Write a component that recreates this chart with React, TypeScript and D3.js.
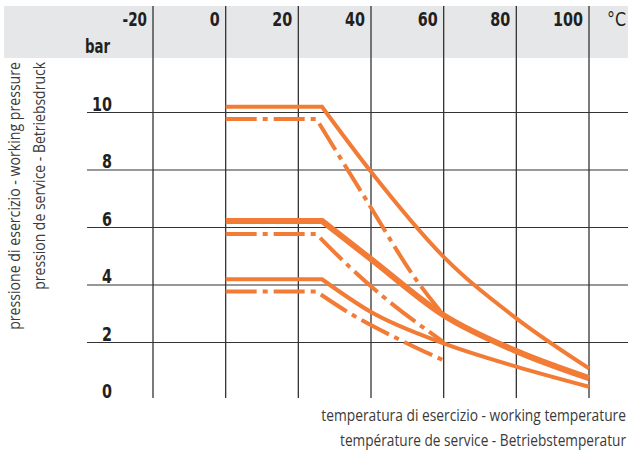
import * as d3 from 'd3';
import { useEffect, useRef } from 'react';

// axis ticks
const tempTicks = [-20, 0, 20, 40, 60, 80, 100];
const pressureTicks = [0, 2, 4, 6, 8, 10];

// curves (temperature in °C, pressure in bar)
const solid10Temp = [0, 26.5, 40, 60, 80, 100];
const solid10Bar = [10.2, 10.2, 7.94, 4.98, 2.84, 1.1];

const dash10Temp = [0, 25, 38.7, 52.5, 60];
const dash10Bar = [9.77, 9.77, 6.96, 4.17, 2.95];

const solid6Temp = [0, 26.5, 40, 60, 80, 100];
const solid6Bar = [6.23, 6.23, 4.9, 2.95, 1.7, 0.76];

const dash6Temp = [0, 25, 34.1, 43.3, 59.8];
const dash6Bar = [5.77, 5.77, 4.63, 3.6, 2.03];

const solid4Temp = [0, 26.5, 40, 60, 80, 100];
const solid4Bar = [4.2, 4.2, 3.06, 1.97, 1.16, 0.46];

const dash4Temp = [0, 25, 34.1, 48, 59.8];
const dash4Bar = [3.77, 3.77, 3.02, 2.09, 1.39];

const yTitle = ['pressione di esercizio - working pressure', 'pression de service - Betriebsdruck'];
const xTitle = ['temperatura di esercizio - working temperature', 'température de service - Betriebstemperatur'];

const series = [
  { temp: solid10Temp, bar: solid10Bar, dashed: false, thick: false },
  { temp: dash10Temp, bar: dash10Bar, dashed: true, thick: false },
  { temp: solid6Temp, bar: solid6Bar, dashed: false, thick: true },
  { temp: dash6Temp, bar: dash6Bar, dashed: true, thick: false },
  { temp: solid4Temp, bar: solid4Bar, dashed: false, thick: false },
  { temp: dash4Temp, bar: dash4Bar, dashed: true, thick: false },
];

// widths of the condensed labels as seen in the picture
const labelWidth = (s: string) => s.replace('-', '').length * 10 + (s.includes('-') ? 4.5 : 0);

export default function App() {
  const svgRef = useRef(null);

  useEffect(() => {
    d3.select(svgRef.current).selectAll('*').remove();

    const width = 628;
    const height = 452;
    const orange = '#f27b35';
    const gridColor = '#333';
    const ink = '#231f20';
    const labelFont = '"DejaVu Sans", sans-serif';
    const titleFont = '"Open Sans", "Noto Sans", sans-serif';

    const x = d3.scaleLinear([-20, 100], [153, 589]);
    const y = d3.scaleLinear([0, 10], [400, 112.5]);

    const svg = d3.select(svgRef.current)
      .attr('viewBox', [0, 0, width, height])
      .attr('width', width)
      .attr('height', height)
      .style('position', 'absolute')
      .style('left', 0)
      .style('top', 0)
      .style('background', '#fff');

    // squeeze a text horizontally so it is `w` px wide (fake condensed face)
    function fit(text, tx, ty, w, rotate = 0) {
      text.each(function (d, i) {
        const node = this as SVGTextElement;
        const W = typeof w === 'function' ? w(d, i) : w;
        const X = typeof tx === 'function' ? tx(d, i) : tx;
        const Y = typeof ty === 'function' ? ty(d, i) : ty;
        const s = W / node.getComputedTextLength();
        d3.select(node).attr('transform', `translate(${X},${Y}) rotate(${rotate}) scale(${s},1)`);
      });
    }

    // grey header band
    svg.append('rect')
      .attr('x', 4).attr('y', 6)
      .attr('width', width - 4).attr('height', 52)
      .attr('fill', '#e6e7e8');

    // horizontal grid
    svg.append('g')
      .selectAll('line')
      .data(pressureTicks.filter(d => d > 0))
      .join('line')
      .attr('x1', 87).attr('x2', width)
      .attr('y1', d => y(d)).attr('y2', d => y(d))
      .attr('stroke', gridColor)
      .attr('stroke-width', 1.2);

    // vertical grid
    svg.append('g')
      .selectAll('line')
      .data(tempTicks)
      .join('line')
      .attr('x1', d => x(d)).attr('x2', d => x(d))
      .attr('y1', 6).attr('y2', 398)
      .attr('stroke', gridColor)
      .attr('stroke-width', 1.3);

    // x tick labels in the header
    svg.append('g')
      .selectAll('text')
      .data(tempTicks)
      .join('text')
      .attr('text-anchor', 'end')
      .attr('font-family', labelFont)
      .attr('font-weight', 'bold')
      .attr('font-size', 20)
      .attr('fill', ink)
      .text(d => d)
      .call(fit, d => x(d) - 6, 26, d => labelWidth(String(d)));

    svg.append('text')
      .attr('text-anchor', 'end')
      .attr('font-family', labelFont)
      .attr('font-size', 20)
      .attr('fill', ink)
      .text('°C')
      .call(fit, 626, 26, 19);

    svg.append('text')
      .attr('text-anchor', 'end')
      .attr('font-family', labelFont)
      .attr('font-weight', 'bold')
      .attr('font-size', 20)
      .attr('fill', ink)
      .text('bar')
      .call(fit, 110, 53, 25);

    // y tick labels
    svg.append('g')
      .selectAll('text')
      .data(pressureTicks)
      .join('text')
      .attr('text-anchor', 'end')
      .attr('font-family', labelFont)
      .attr('font-weight', 'bold')
      .attr('font-size', 20)
      .attr('fill', ink)
      .text(d => d)
      .call(fit, 112, d => y(d) - 2, d => labelWidth(String(d)));

    // axis titles
    svg.append('g')
      .selectAll('text')
      .data(yTitle)
      .join('text')
      .attr('text-anchor', 'end')
      .attr('font-family', titleFont)
      .attr('font-size', 15.5)
      .attr('fill', '#3a3a3a')
      .text(d => d)
      .call(fit, (_, i) => [20, 45][i], 62, (_, i) => [268, 228][i], -90);

    svg.append('g')
      .selectAll('text')
      .data(xTitle)
      .join('text')
      .attr('text-anchor', 'end')
      .attr('font-family', titleFont)
      .attr('font-size', 15.5)
      .attr('fill', '#3a3a3a')
      .text(d => d)
      .call(fit, 626, (_, i) => [421, 446][i], (_, i) => [305, 286][i]);

    // curves: straight plateau, then a smooth decline
    const flat = d3.line<number[]>().x(d => x(d[0])).y(d => y(d[1]));
    const smooth = d3.line<number[]>().x(d => x(d[0])).y(d => y(d[1])).curve(d3.curveMonotoneX);

    series.forEach(s => {
      const pts = s.temp.map((t, i) => [t, s.bar[i]]);
      const d = flat(pts.slice(0, 2)) + smooth(pts.slice(1)).replace(/^M/, 'L');
      svg.append('path')
        .attr('d', d)
        .attr('fill', 'none')
        .attr('stroke', orange)
        .attr('stroke-width', s.thick ? 6 : 4)
        .attr('stroke-linejoin', 'miter')
        .attr('stroke-dasharray', s.dashed ? '31 6 5 6' : null);
    });
  }, []);

  return <svg ref={svgRef} />;
}
